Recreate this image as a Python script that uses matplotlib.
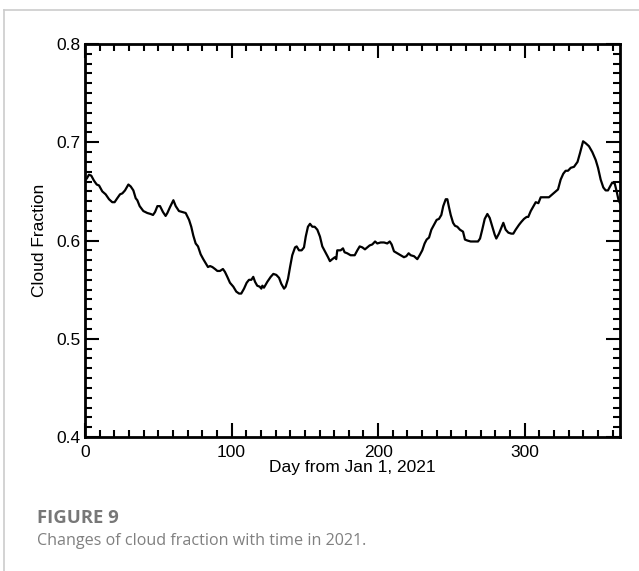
import matplotlib
matplotlib.use("Agg")
import matplotlib.pyplot as plt
from matplotlib.ticker import MultipleLocator
from matplotlib.lines import Line2D

# Daily cloud fraction through 2021 (day of year)
days = [0, 1.2, 2.7, 4.3, 6.1, 8, 9.6, 11.8, 14.1, 16.4, 18.6, 20.2, 22, 23.9, 25.5,
        27.3, 29.6, 31.2, 33, 34.6, 35.7, 37.3, 39.8, 42.5, 44.8, 46.4, 47.8, 49.4,
        51.2, 53.2, 55, 56.2, 58, 60.3, 61.9, 64.1, 66.4, 68.7, 71, 72.5, 73.9, 75.5,
        77.1, 78.9, 80.7, 82.3, 83.9, 85.3, 86.9, 88.7, 90.3, 92.1, 94.1, 95.5, 97.1,
        98.9, 101.2, 103.2, 105.1, 106.6, 108.5, 110.3, 111.9, 113.5, 114.8, 116,
        117.5, 119.2, 120.3, 121, 122.1, 124.4, 126.7, 128.5, 130.5, 132.4, 133.9,
        135.8, 136.9, 138.5, 139.9, 141.4, 143.3, 144.4, 146, 147.8, 149.4, 150.6,
        152.1, 153.5, 155.1, 156.7, 158.5, 160.3, 161.9, 163.7, 165.8, 167.1, 168.7,
        170.5, 171.4, 172.1, 174.4, 176, 177.1, 178.9, 181.2, 184, 185.8, 187.4,
        189.2, 191, 192.6, 194.2, 196, 197.9, 199.4, 201.7, 204, 206.2, 207.9, 209.2,
        210.8, 213.1, 215.4, 217.6, 219.2, 220.8, 222.2, 224.5, 226.7, 228.3, 230.1,
        231.7, 233.1, 234.7, 236.3, 238.1, 239.9, 241.5, 243.1, 244.4, 246.1, 247.2,
        248.3, 249.5, 251.1, 252.4, 254, 255.8, 257.9, 259.2, 260.8, 263.1, 265.4,
        268.1, 269.5, 271, 272.7, 274.5, 276.1, 277.9, 279.5, 280.6, 282.4, 284,
        285.4, 287, 288.8, 290.8, 292.2, 293.8, 296.1, 297.7, 299.5, 301.3, 302.4,
        304.1, 305.6, 307.5, 309.3, 310.9, 312.7, 314.7, 316.5, 318.8, 321.1, 322.7,
        324.5, 326.3, 327.9, 329.5, 331.4, 333.6, 336, 337.7, 339.8, 341.6, 343.8,
        346.1, 348.4, 350, 351.8, 353.6, 355.2, 356.8, 358.2, 359.7, 361.4, 362.7,
        364, 365]

cloud_fraction = [0.662, 0.663, 0.667, 0.666, 0.661, 0.657, 0.656, 0.650, 0.647, 0.642,
                  0.639, 0.639, 0.643, 0.647, 0.648, 0.651, 0.657, 0.655, 0.651, 0.643,
                  0.641, 0.635, 0.630, 0.628, 0.627, 0.626, 0.629, 0.635, 0.635, 0.629,
                  0.625, 0.628, 0.634, 0.641, 0.635, 0.630, 0.629, 0.628, 0.621, 0.614,
                  0.605, 0.597, 0.594, 0.586, 0.581, 0.577, 0.573, 0.574, 0.573, 0.571,
                  0.569, 0.569, 0.571, 0.568, 0.563, 0.557, 0.553, 0.548, 0.546, 0.546,
                  0.551, 0.557, 0.560, 0.560, 0.563, 0.558, 0.554, 0.553, 0.551, 0.554,
                  0.552, 0.558, 0.563, 0.566, 0.565, 0.562, 0.556, 0.551, 0.553, 0.561,
                  0.573, 0.585, 0.593, 0.594, 0.590, 0.590, 0.593, 0.604, 0.614, 0.617,
                  0.614, 0.614, 0.611, 0.604, 0.594, 0.589, 0.583, 0.579, 0.581, 0.583,
                  0.581, 0.590, 0.590, 0.592, 0.588, 0.587, 0.585, 0.585, 0.590, 0.594,
                  0.593, 0.591, 0.593, 0.595, 0.596, 0.599, 0.597, 0.598, 0.598, 0.597,
                  0.599, 0.596, 0.589, 0.587, 0.585, 0.583, 0.584, 0.587, 0.585, 0.584,
                  0.581, 0.585, 0.590, 0.597, 0.601, 0.603, 0.611, 0.616, 0.621, 0.622,
                  0.626, 0.635, 0.642, 0.642, 0.634, 0.626, 0.618, 0.615, 0.614, 0.611,
                  0.609, 0.601, 0.600, 0.599, 0.599, 0.599, 0.602, 0.611, 0.622, 0.627,
                  0.623, 0.614, 0.606, 0.602, 0.607, 0.613, 0.618, 0.611, 0.608, 0.607,
                  0.607, 0.611, 0.616, 0.619, 0.622, 0.624, 0.624, 0.630, 0.634, 0.639,
                  0.638, 0.644, 0.644, 0.644, 0.644, 0.647, 0.650, 0.652, 0.662, 0.668,
                  0.671, 0.671, 0.674, 0.675, 0.680, 0.689, 0.701, 0.699, 0.696, 0.690,
                  0.682, 0.674, 0.662, 0.654, 0.651, 0.651, 0.655, 0.659, 0.658, 0.650,
                  0.641, 0.638]

x_ticks = [0, 100, 200, 300]
y_ticks = [0.4, 0.5, 0.6, 0.7, 0.8]
y_tick_labels = ["0.4", "0.5", "0.6", "0.7", "0.8"]

plt.rcParams["font.family"] = ["Liberation Sans", "DejaVu Sans"]

fig = plt.figure(figsize=(6.39, 5.71), dpi=100)
ax = fig.add_axes([0.1330, 0.2347, 0.9703 - 0.1330, 0.9229 - 0.2347])

ax.plot(days, cloud_fraction, color="black", linewidth=1.6)

ax.set_xlim(0, 365)
ax.set_ylim(0.4, 0.8)
ax.set_xticks(x_ticks)
ax.set_xticklabels([str(t) for t in x_ticks])
ax.set_yticks(y_ticks)
ax.set_yticklabels(y_tick_labels)
ax.xaxis.set_minor_locator(MultipleLocator(10))
ax.yaxis.set_minor_locator(MultipleLocator(0.01))

ax.tick_params(which="both", direction="in", top=True, right=True,
               width=1.5, labelsize=12.5, colors="black")
ax.tick_params(which="major", length=10)
ax.tick_params(which="minor", length=5)
ax.tick_params(axis="x", which="major", pad=6)
ax.tick_params(axis="y", which="major", pad=3)
for sp in ax.spines.values():
    sp.set_linewidth(2)

ax.set_xlabel("Day from Jan 1, 2021", fontsize=12.5, labelpad=0)
ax.set_ylabel("Cloud Fraction", fontsize=12.5, labelpad=7)

# Panel border (top and left edges)
fig.add_artist(Line2D([4 / 639, 1.0], [1 - 10 / 571, 1 - 10 / 571],
                      transform=fig.transFigure, color="#cccccc", linewidth=1.2))
fig.add_artist(Line2D([4 / 639, 4 / 639], [0.0, 1 - 10 / 571],
                      transform=fig.transFigure, color="#cccccc", linewidth=1.2))

# Caption
fig.text(37 / 639, 1 - 518 / 571, "FIGURE 9", fontsize=13.3, fontweight="bold",
         color="#777777", family=["Open Sans", "DejaVu Sans"], va="center", ha="left")
fig.text(37 / 639, 1 - 541 / 571, "Changes of cloud fraction with time in 2021.",
         fontsize=11.6, color="#808080", family=["Open Sans", "DejaVu Sans"],
         va="center", ha="left")

fig.savefig("out.png", dpi=100)
